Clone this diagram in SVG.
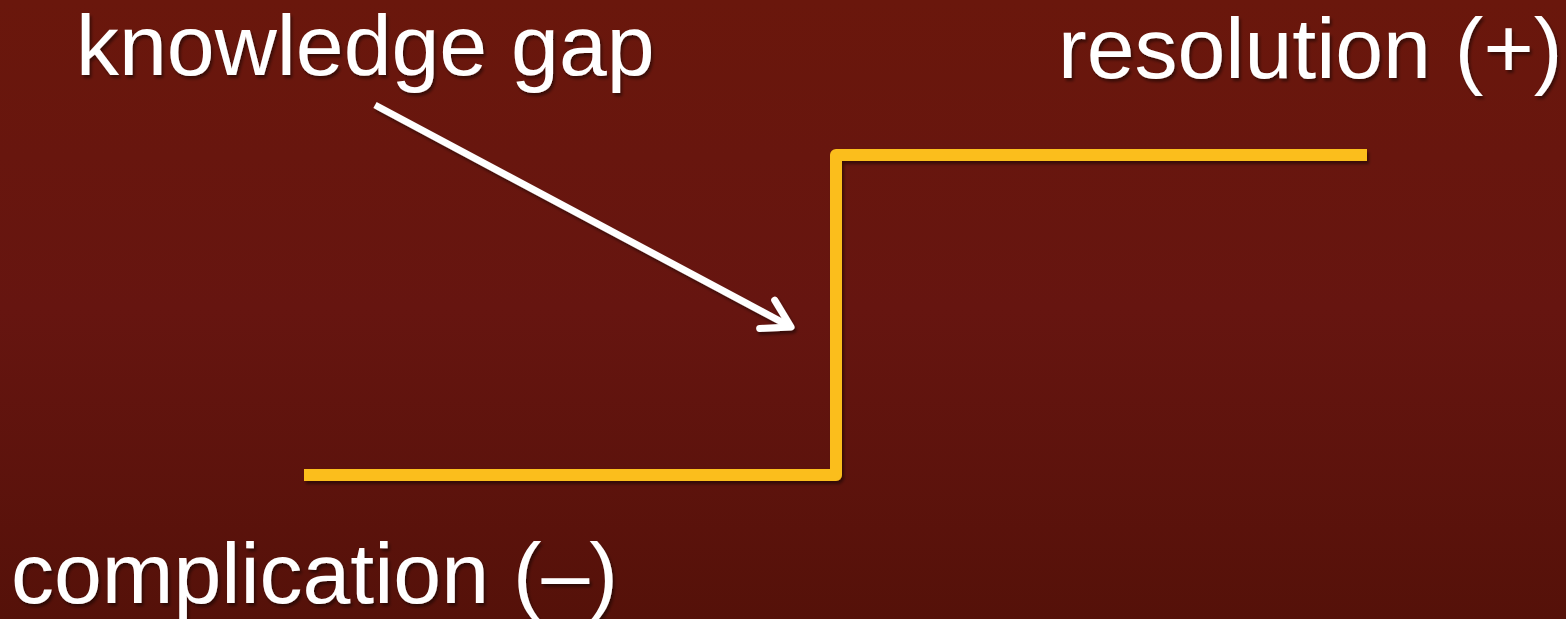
<svg xmlns="http://www.w3.org/2000/svg" width="1566" height="619" viewBox="0 0 1566 619">
  <defs>
    <linearGradient id="bg" x1="0" y1="0" x2="0" y2="1">
      <stop offset="0" stop-color="#6A170C"/>
      <stop offset="0.5" stop-color="#661510"/>
      <stop offset="1" stop-color="#551109"/>
    </linearGradient>
    <filter id="sh" x="-10%" y="-10%" width="120%" height="130%">
      <feDropShadow dx="2" dy="3" stdDeviation="1.5" flood-color="#000" flood-opacity="0.45"/>
    </filter>
    <marker id="vhead" markerUnits="userSpaceOnUse" viewBox="-40 -25 50 50" markerWidth="50" markerHeight="50" refX="0" refY="0" orient="auto">
      <path d="M -27,-16 L 0,0 L -27,16" fill="none" stroke="#FFFFFF" stroke-width="7" stroke-linecap="round" stroke-linejoin="round"/>
    </marker>
    <style>
      .lbl { font-family: "Liberation Sans", Arial, sans-serif; font-size: 86px; fill: #FFFFFF; filter: url(#sh); }
      .step { fill: none; stroke: #FBBE1C; stroke-width: 12; stroke-linejoin: round; stroke-linecap: butt; filter: url(#sh); }
      .arrow { fill: none; stroke: #FFFFFF; stroke-width: 7; stroke-linecap: butt; filter: url(#sh); }
    </style>
  </defs>
  <rect x="0" y="0" width="1566" height="619" fill="url(#bg)"/>
  <g id="connectors">
    <polyline class="step" points="304,475 836,475 836,155 1367,155"/>
    <line class="arrow" x1="375" y1="105" x2="791" y2="327" marker-end="url(#vhead)"/>
  </g>
  <g id="node-knowledge-gap">
    <text class="lbl" x="76" y="75">knowledge gap</text>
  </g>
  <g id="node-resolution">
    <text class="lbl" x="1058" y="78">resolution (+)</text>
  </g>
  <g id="node-complication">
    <text class="lbl" x="11" y="603">complication (–)</text>
  </g>
</svg>
